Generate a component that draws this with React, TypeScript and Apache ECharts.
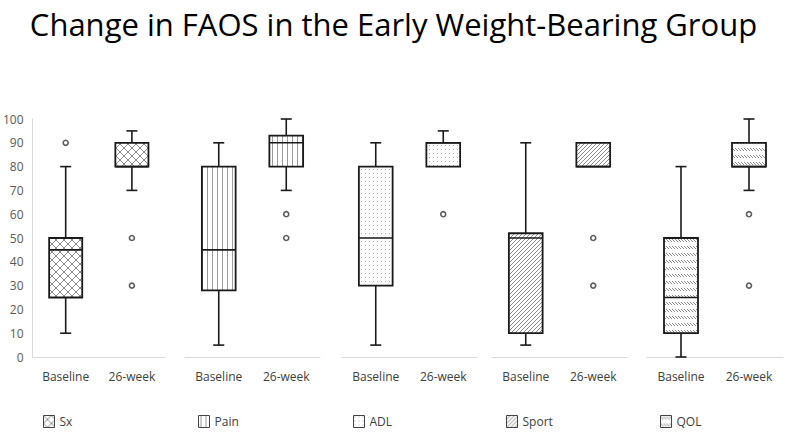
import React, { useEffect, useRef } from "react";
import * as echarts from "echarts";

const categories = ["Baseline", "26-week"];
const groups = ["Sx", "Pain", "ADL", "Sport", "QOL"];
// [min, Q1, median, Q3, max] for Baseline and 26-week
const sxBox = [[10, 25, 45, 50, 80], [70, 80, 80, 90, 95]];
const painBox = [[5, 28, 45, 80, 90], [70, 80, 90, 93, 100]];
const adlBox = [[5, 30, 50, 80, 90], [80, 80, 90, 90, 95]];
const sportBox = [[5, 10, 50, 52, 90], [80, 80, 80, 90, 90]];
const qolBox = [[0, 10, 25, 50, 80], [70, 80, 80, 90, 100]];
const boxes = [sxBox, painBox, adlBox, sportBox, qolBox];
// outliers per group: [category, value]
const sxOut = [["Baseline", 90], ["26-week", 50], ["26-week", 30]];
const painOut = [["26-week", 60], ["26-week", 50]];
const adlOut = [["26-week", 60]];
const sportOut = [["26-week", 50], ["26-week", 30]];
const qolOut = [["26-week", 60], ["26-week", 30]];
const outliers = [sxOut, painOut, adlOut, sportOut, qolOut];
const yTicks = [0, 10, 20, 30, 40, 50, 60, 70, 80, 90, 100];

function makePattern(kind: string): HTMLCanvasElement {
  const c = document.createElement("canvas");
  let w = 8, h = 8;
  if (kind === "Pain") { w = 5; h = 5; }
  if (kind === "ADL") { w = 4; h = 4; }
  if (kind === "Sport") { w = 4; h = 4; }
  if (kind === "QOL") { w = 3; h = 7; }
  c.width = w; c.height = h;
  const ctx = c.getContext("2d")!;
  ctx.fillStyle = "#fff";
  ctx.fillRect(0, 0, w, h);
  ctx.lineWidth = 1;
  if (kind === "Sx") {
    ctx.strokeStyle = "#8a8a8a";
    ctx.beginPath();
    ctx.moveTo(0, 0); ctx.lineTo(8, 8);
    ctx.moveTo(8, 0); ctx.lineTo(0, 8);
    ctx.stroke();
  } else if (kind === "Pain") {
    ctx.fillStyle = "#9a9a9a";
    ctx.fillRect(2, 0, 1, 5);
  } else if (kind === "ADL") {
    ctx.fillStyle = "#b0b0b0";
    ctx.fillRect(1, 1, 1, 1);
  } else if (kind === "Sport") {
    ctx.strokeStyle = "#8c8c8c";
    ctx.beginPath();
    ctx.moveTo(0, 4); ctx.lineTo(4, 0);
    ctx.moveTo(-1, 1); ctx.lineTo(1, -1);
    ctx.moveTo(3, 5); ctx.lineTo(5, 3);
    ctx.stroke();
  } else if (kind === "QOL") {
    ctx.strokeStyle = "#8c8c8c";
    ctx.beginPath();
    ctx.moveTo(0, 1); ctx.lineTo(3, 4);
    ctx.stroke();
  }
  return c;
}

const gridLefts = [32, 185, 342, 492, 647];
const gridWidths = [133, 135, 135, 135, 136];
const legendLefts = [43, 198, 353, 506, 660];

export default function App() {
  const ref = useRef<HTMLDivElement>(null);
  useEffect(() => {
    if (!ref.current) return;
    const chart = echarts.init(ref.current, null, { renderer: "svg" });
    const patterns = groups.map((g) => ({ image: makePattern(g), repeat: "repeat" }));

    const grids = groups.map((_, i) => ({
      left: gridLefts[i], width: gridWidths[i], top: 119, height: 238,
    }));
    const xAxes = groups.map((_, i) => ({
      type: "category", gridIndex: i, data: categories,
      axisLine: { show: true, lineStyle: { color: "#d9d9d9", width: 1 } },
      axisTick: { show: false },
      axisLabel: { color: "#404040", fontSize: 12, margin: 13, fontFamily: "Open Sans" },
    }));
    const yAxes = groups.map((_, i) => ({
      type: "value", gridIndex: i, min: 0, max: 100, interval: 10,
      show: i === 0,
      axisLine: { show: i === 0, lineStyle: { color: "#d9d9d9" } },
      axisTick: { show: false },
      splitLine: { show: false },
      axisLabel: { color: "#595959", fontSize: 12, margin: 9, fontFamily: "Open Sans",
        formatter: (v: number) => (yTicks.includes(v) ? String(v) : "") },
    }));

    const boxSeries = groups.map((g, i) => ({
      type: "custom", name: g, xAxisIndex: i, yAxisIndex: i,
      itemStyle: { color: patterns[i], borderColor: "#000", borderWidth: 1 },
      data: boxes[i].map((b, k) => [categories[k], ...b]),
      encode: { x: 0, y: [1, 2, 3, 4, 5] },
      renderItem: (params: any, api: any) => {
        const cat = api.value(0);
        const vals = [1, 2, 3, 4, 5].map((d) => api.value(d));
        const pts = vals.map((v) => api.coord([cat, v]));
        const cx = pts[0][0];
        const bw = api.size([1, 0])[0] * 0.5;
        const half = bw / 2;
        const cap = 5.5;
        const [pMin, pQ1, pMed, pQ3, pMax] = pts;
        const stroke = { stroke: "#1a1a1a", lineWidth: 1.6 };
        const children: any[] = [];
        if (Math.abs(pMax[1] - pQ3[1]) > 0.5) {
          children.push({ type: "line", shape: { x1: cx, y1: pQ3[1], x2: cx, y2: pMax[1] }, style: stroke });
          children.push({ type: "line", shape: { x1: cx - cap, y1: pMax[1], x2: cx + cap, y2: pMax[1] }, style: stroke });
        }
        if (Math.abs(pMin[1] - pQ1[1]) > 0.5) {
          children.push({ type: "line", shape: { x1: cx, y1: pQ1[1], x2: cx, y2: pMin[1] }, style: stroke });
          children.push({ type: "line", shape: { x1: cx - cap, y1: pMin[1], x2: cx + cap, y2: pMin[1] }, style: stroke });
        }
        children.push({
          type: "rect",
          shape: { x: cx - half, y: pQ3[1], width: bw, height: pQ1[1] - pQ3[1] },
          style: { fill: patterns[i] as any, stroke: "#1a1a1a", lineWidth: 1.8 },
        });
        children.push({ type: "line", shape: { x1: cx - half, y1: pMed[1], x2: cx + half, y2: pMed[1] }, style: stroke });
        return { type: "group", children };
      },
    }));

    const outSeries = groups.map((g, i) => ({
      type: "scatter", xAxisIndex: i, yAxisIndex: i,
      symbol: "circle", symbolSize: 5,
      itemStyle: { color: "#fff", borderColor: "#333", borderWidth: 1.6 },
      data: outliers[i],
      silent: true,
    }));

    const legends = groups.map((g, i) => ({
      data: [g], left: legendLefts[i], top: 415, padding: 0,
      icon: "rect", itemWidth: 11, itemHeight: 12, itemGap: 4,
      itemStyle: { color: patterns[i], borderColor: "#444", borderWidth: 1 },
      textStyle: { color: "#404040", fontSize: 12, fontFamily: "Open Sans" },
      selectedMode: false,
    }));

    chart.setOption({
      animation: false,
      backgroundColor: "#fff",
      title: {
        text: "Change in FAOS in the Early Weight-Bearing Group",
        left: "center", top: 3,
        textStyle: { fontSize: 31, fontWeight: "normal", color: "#000", fontFamily: "Open Sans" },
      },
      grid: grids, xAxis: xAxes, yAxis: yAxes,
      legend: legends,
      series: [...boxSeries, ...outSeries],
    } as any);
    return () => chart.dispose();
  }, []);
  return <div ref={ref} style={{ position: "absolute", left: 0, top: 0, width: 787, height: 436 }} />;
}
